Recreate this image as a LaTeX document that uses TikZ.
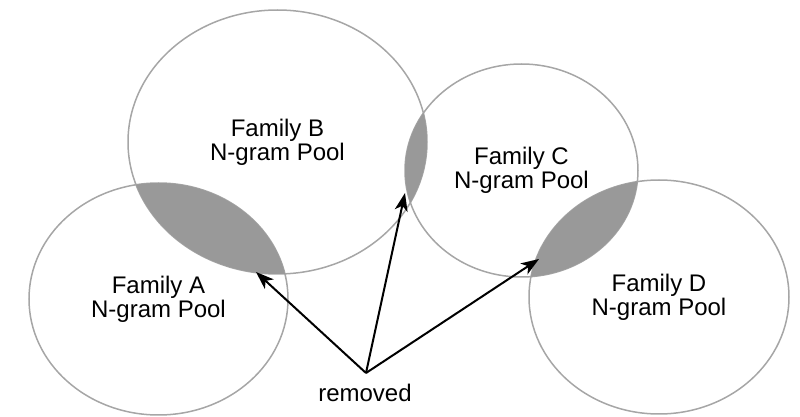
\documentclass[tikz,border=0pt]{standalone}
\usepackage{fontspec}
\setmainfont{Liberation Sans}
\usetikzlibrary{arrows.meta,shapes.geometric}

\definecolor{rimgray}{HTML}{A6A6A6}
\definecolor{lensgray}{HTML}{999999}

\tikzset{
  pool/.style={ellipse, draw=rimgray, line width=0.75pt, inner sep=0pt,
    align=center, font=\fontsize{12}{12}\selectfont},
  lens/.style={fill=lensgray},
  arr/.style={draw=black, line width=1pt,
    -{Stealth[length=9pt, width=6.5pt, inset=2.5pt]}},
  caption/.style={font=\fontsize{12}{12}\selectfont, inner sep=0pt}
}

\begin{document}
\begin{tikzpicture}[x=0.5pt, y=-0.5pt]
  \useasboundingbox (0,0) rectangle (800,417);

  % the four pools
  \node[pool, minimum width=129.5pt, minimum height=116pt] (famA) at (158.5,299)
    {Family A\\N-gram Pool};
  \node[pool, minimum width=149.5pt, minimum height=132pt] (famB) at (277.5,142)
    {Family B\\N-gram Pool};
  \node[pool, minimum width=116.5pt, minimum height=106.5pt] (famC) at (521.5,170.5)
    {Family C\\N-gram Pool};
  \node[pool, minimum width=130pt, minimum height=117pt] (famD) at (659,297)
    {Family D\\N-gram Pool};

  % overlaps between neighbouring pools
  \begin{scope}
    \clip (famA.center) ellipse [x radius=64.75pt, y radius=58pt];
    \fill[lens] (famB.center) ellipse [x radius=74.75pt, y radius=66pt];
  \end{scope}
  \begin{scope}
    \clip (famB.center) ellipse [x radius=74.75pt, y radius=66pt];
    \fill[lens] (famC.center) ellipse [x radius=58.25pt, y radius=53.25pt];
  \end{scope}
  \begin{scope}
    \clip (famC.center) ellipse [x radius=58.25pt, y radius=53.25pt];
    \fill[lens] (famD.center) ellipse [x radius=65pt, y radius=58.5pt];
  \end{scope}

  % removed n-grams
  \node[caption] (rm) at (365,393) {removed};
  \coordinate (src) at (366,373);
  \coordinate (lensAB) at (256,272);
  \coordinate (lensBC) at (405,193);
  \coordinate (lensCD) at (539,259);

  \draw[arr] (src) -- (lensAB);
  \draw[arr] (src) -- (lensBC);
  \draw[arr] (src) -- (lensCD);
\end{tikzpicture}
\end{document}
